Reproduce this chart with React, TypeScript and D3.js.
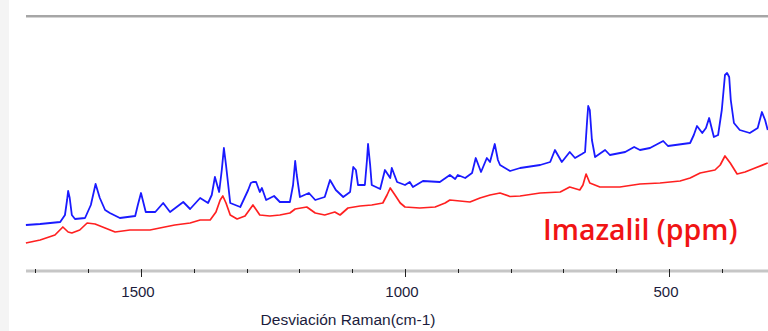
import React, { useRef, useEffect } from 'react';
import * as d3 from 'd3';

// Raman shift (cm-1) and intensity (a.u.)
const blueShift = [1718, 1691, 1653, 1644, 1640, 1638, 1635, 1631, 1625, 1606, 1595, 1586, 1578, 1568, 1559, 1540, 1511, 1506, 1500, 1491, 1473, 1458, 1445, 1420, 1407, 1388, 1373, 1366, 1360, 1352, 1347, 1343, 1339, 1331, 1312, 1297, 1292, 1288, 1282, 1275, 1271, 1263, 1248, 1237, 1218, 1212, 1208, 1205, 1199, 1182, 1170, 1152, 1142, 1131, 1117, 1104, 1098, 1093, 1089, 1076, 1072, 1070, 1066, 1063, 1047, 1038, 1028, 1025, 1015, 1000, 991, 985, 966, 934, 915, 905, 900, 886, 873, 866, 856, 845, 839, 833, 830, 824, 820, 801, 782, 744, 725, 716, 703, 688, 678, 665, 659, 655, 653, 650, 646, 640, 621, 612, 583, 566, 555, 536, 511, 502, 460, 453, 447, 437, 430, 424, 415, 407, 400, 394, 390, 386, 383, 377, 366, 347, 332, 324, 318, 313];
const blueIntensity = [45, 46, 48, 55, 70, 79, 72, 55, 51, 52, 65, 86, 72, 60, 57, 52, 54, 65, 77, 58, 58, 67, 58, 68, 61, 72, 67, 75, 93, 78, 100, 122, 105, 67, 63, 80, 87, 88, 88, 78, 82, 70, 74, 68, 68, 85, 109, 95, 73, 77, 70, 73, 90, 80, 73, 78, 103, 100, 85, 85, 110, 126, 105, 85, 81, 100, 92, 102, 88, 85, 88, 83, 89, 88, 95, 91, 95, 92, 97, 112, 98, 112, 108, 120, 126, 110, 105, 99, 102, 105, 108, 120, 108, 118, 112, 116, 118, 150, 164, 160, 130, 113, 120, 115, 118, 123, 120, 122, 129, 124, 127, 135, 144, 137, 142, 152, 133, 135, 160, 195, 197, 193, 170, 147, 140, 137, 142, 158, 150, 140];

const redShift = [1718, 1691, 1663, 1648, 1638, 1631, 1616, 1602, 1587, 1568, 1549, 1521, 1483, 1455, 1436, 1407, 1388, 1369, 1358, 1350, 1345, 1339, 1331, 1318, 1303, 1288, 1275, 1256, 1237, 1218, 1208, 1186, 1170, 1152, 1133, 1123, 1108, 1085, 1063, 1042, 1034, 1028, 1019, 1009, 1000, 972, 943, 924, 915, 877, 858, 839, 820, 801, 782, 744, 706, 688, 669, 663, 657, 650, 631, 593, 555, 517, 479, 460, 441, 413, 403, 394, 384, 371, 356, 337, 313];
const redIntensity = [27, 30, 35, 43, 38, 37, 40, 47, 46, 42, 38, 40, 40, 43, 45, 47, 50, 50, 58, 70, 74, 67, 55, 51, 54, 65, 55, 54, 55, 57, 61, 63, 57, 55, 58, 55, 62, 64, 65, 67, 75, 82, 75, 67, 63, 62, 63, 67, 70, 68, 72, 75, 77, 73.5, 74, 77, 78, 83, 80, 85, 96, 87, 83, 83, 86, 87, 89, 92, 97, 100, 105, 114, 107, 96, 98, 102, 107];

const majorTicks = [1500, 1000, 500];
const minorTicks = [1700, 1600, 1400, 1300, 1200, 1100, 900, 800, 700, 600, 400];

const xTitle = 'Desviación Raman(cm-1)';
const legendText = 'Imazalil (ppm)';

const App = () => {
  const ref = useRef<SVGSVGElement>(null);

  useEffect(() => {
    const width = 768;
    const height = 331;
    const left = 26;
    const axisY = 271;

    const svg = d3.select(ref.current);
    svg.selectAll('*').remove();
    svg.attr('width', width).attr('height', height);

    // x runs from high to low wavenumber
    const x = d3.scaleLinear().domain([1500, 1000]).range([141, 405]);
    const y = d3.scaleLinear().domain([0, 254]).range([270, 16]);

    //left grey panel
    svg.append('rect')
      .attr('x', 0).attr('y', 0)
      .attr('width', 9).attr('height', height)
      .attr('fill', '#f4f4f4');

    //top frame line
    svg.append('line')
      .attr('x1', left).attr('x2', width)
      .attr('y1', 16).attr('y2', 16)
      .attr('stroke', '#a6a6a6').attr('stroke-width', 2);
    svg.append('line')
      .attr('x1', left).attr('x2', width)
      .attr('y1', 17.5).attr('y2', 17.5)
      .attr('stroke', '#d4d4d4').attr('stroke-width', 1);

    //spectra
    const line = d3.line<[number, number]>()
      .x(d => x(d[0]))
      .y(d => y(d[1]));

    const blue = blueShift.map((s, i) => [s, blueIntensity[i]] as [number, number]);
    const red = redShift.map((s, i) => [s, redIntensity[i]] as [number, number]);

    svg.append('path')
      .attr('d', line(red))
      .attr('fill', 'none')
      .attr('stroke', '#ff2020')
      .attr('stroke-width', 1.7)
      .attr('stroke-linejoin', 'round');

    svg.append('path')
      .attr('d', line(blue))
      .attr('fill', 'none')
      .attr('stroke', '#1a1aff')
      .attr('stroke-width', 1.8)
      .attr('stroke-linejoin', 'round');

    //x axis bar
    svg.append('line')
      .attr('x1', left).attr('x2', width)
      .attr('y1', axisY).attr('y2', axisY)
      .attr('stroke', '#c6c6c6').attr('stroke-width', 3);

    svg.append('g')
      .selectAll('line')
      .data(minorTicks)
      .join('line')
      .attr('x1', d => Math.round(x(d)) + 0.5)
      .attr('x2', d => Math.round(x(d)) + 0.5)
      .attr('y1', 269).attr('y2', 273)
      .attr('stroke', '#222').attr('stroke-width', 1);

    svg.append('g')
      .selectAll('line')
      .data(majorTicks)
      .join('line')
      .attr('x1', d => Math.round(x(d)) + 0.5)
      .attr('x2', d => Math.round(x(d)) + 0.5)
      .attr('y1', 269).attr('y2', 277)
      .attr('stroke', '#222').attr('stroke-width', 1);

    svg.append('g')
      .selectAll('text')
      .data(majorTicks)
      .join('text')
      .attr('x', d => x(d) - 3)
      .attr('y', 297)
      .attr('text-anchor', 'middle')
      .style('font-family', 'Liberation Sans, Arial, sans-serif')
      .style('font-size', '15px')
      .style('fill', '#1c1c3c')
      .text(d => d);

    //axis title
    svg.append('text')
      .attr('x', 348)
      .attr('y', 325)
      .attr('text-anchor', 'middle')
      .style('font-family', 'Liberation Sans, Arial, sans-serif')
      .style('font-size', '15.5px')
      .style('fill', '#1c1c3c')
      .text(xTitle);

    //legend label
    svg.append('text')
      .attr('x', 543)
      .attr('y', 240)
      .style('font-family', 'Open Sans, Noto Sans, sans-serif')
      .style('font-size', '28.5px')
      .style('font-weight', 600)
      .style('fill', '#f01414')
      .text(legendText);
  }, []);

  return (
    <div style={{ position: 'fixed', left: 0, top: 0, width: 768, height: 331, background: '#fff' }}>
      <svg ref={ref} style={{ display: 'block' }}></svg>
    </div>
  );
};

export default App;
